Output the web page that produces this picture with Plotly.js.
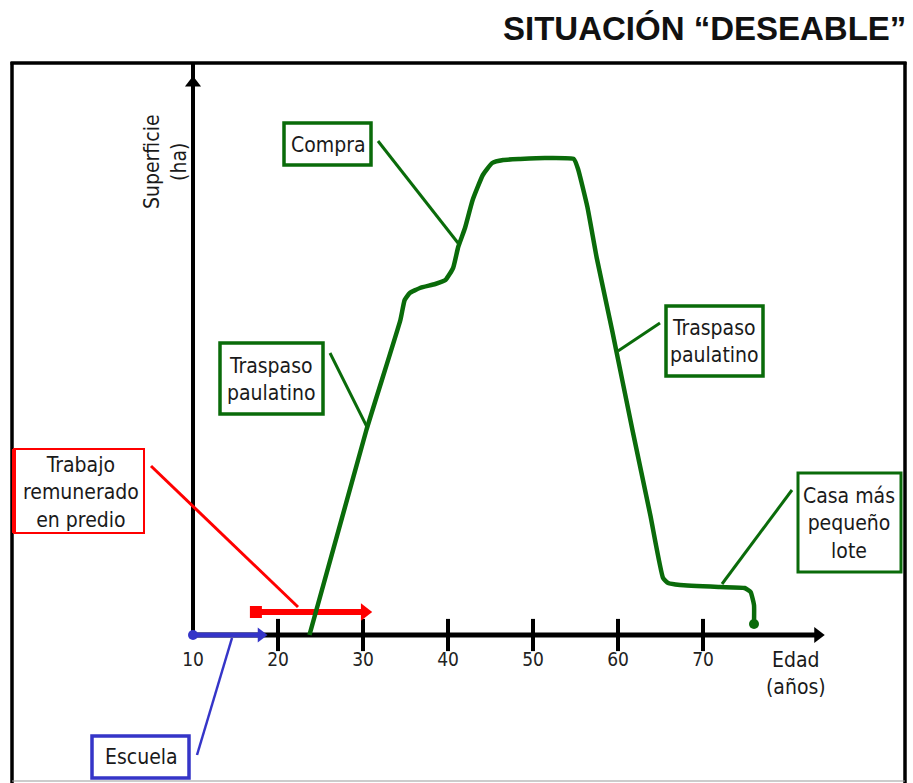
<!DOCTYPE html>
<html>
<head>
<meta charset="utf-8">
<script src="https://cdn.plot.ly/plotly-3.0.1.min.js"></script>
<style>
html,body{margin:0;padding:0;background:#fff;}
#chart{width:913px;height:783px;}
</style>
</head>
<body>
<div id="chart"></div>
<script>
// ---------------- data ----------------
const curveAge = [23.7, 30.4, 34.4, 34.9, 35.5, 36.7, 38.5, 39.7, 40.6, 41.2, 42.0, 42.9, 44.1, 45.2, 46.5, 48.5, 51.4, 54.8, 55.3, 56.4, 57.5, 59.3, 61.7, 63.8, 65.3, 65.9, 67.3, 72.0, 74.9, 75.6, 76.0, 76.0];
const curveSup = [0, 41, 63, 67, 68.4, 69.4, 70.2, 71, 73.4, 77.6, 81.4, 87, 92, 94.4, 95, 95.2, 95.4, 95.2, 93.2, 85.6, 75.4, 61, 41, 24, 11.4, 10.4, 10, 9.6, 9.4, 8.6, 6, 2.2];
const escuelaAge = [10, 18];
const trabajoAge = [17.4, 30.2];
const trabajoSup = 4.6;
const tickVals = [20, 30, 40, 50, 60, 70];
const tickLabelVals = [10, 20, 30, 40, 50, 60, 70];
const tickLabels = ['10', '20', '30', '40', '50', '60', '70'];
const xAxisStart = 10, xAxisEnd = 83.2, xArrowTip = 83.5;
const yAxisTop = 114.4, yArrowPos = 110.4;

// ---------------- helpers (layout pixel -> paper) ----------------
const W = 913, H = 783;
const PX = p => p / W;
const PY = p => 1 - p / H;

const GREEN = '#0a6b0a', RED = '#ff0000', BLUE = '#3535c8';
const TXT = "'Liberation Sans Narrow', 'DejaVu Sans Condensed', 'Liberation Sans', sans-serif";

function mk(symbol, size, color){
  return {symbol:symbol, size:size, color:color, opacity:1, line:{width:0}};
}

const traces = [];
// x axis line
traces.push({x:[xAxisStart, xAxisEnd], y:[0,0], mode:'lines', line:{color:'#000', width:5}, hoverinfo:'skip'});
traces.push({x:[xArrowTip], y:[0], mode:'markers', marker:mk('triangle-right', 14, '#000'), hoverinfo:'skip'});
// ticks
traces.push({x:tickVals, y:tickVals.map(()=>0), mode:'markers', marker:{symbol:'line-ns', size:23, opacity:1, line:{color:'#000', width:4}}, hoverinfo:'skip'});
// tick labels
traces.push({x:tickLabelVals, y:tickLabelVals.map(()=>-5.2), mode:'text', text:tickLabels, textfont:{family:TXT, size:19, color:'#222'}, hoverinfo:'skip'});
// y axis line
traces.push({x:[xAxisStart, xAxisStart], y:[0, yAxisTop], mode:'lines', line:{color:'#000', width:4}, hoverinfo:'skip'});
traces.push({x:[xAxisStart], y:[yArrowPos], mode:'markers', marker:mk('triangle-up', 14, '#000'), hoverinfo:'skip'});
// escuela (blue) arrow
traces.push({x:escuelaAge, y:[0,0], mode:'lines', line:{color:BLUE, width:5}, hoverinfo:'skip'});
traces.push({x:escuelaAge, y:[0,0], mode:'markers', marker:mk(['circle','triangle-right'], [10,13], BLUE), hoverinfo:'skip'});
// trabajo (red) arrow
traces.push({x:trabajoAge, y:[trabajoSup, trabajoSup], mode:'lines', line:{color:RED, width:6}, hoverinfo:'skip'});
traces.push({x:trabajoAge, y:[trabajoSup, trabajoSup], mode:'markers', marker:mk(['square','triangle-right'], [12,15], RED), hoverinfo:'skip'});
// main curve
traces.push({x:curveAge, y:curveSup, mode:'lines', line:{color:GREEN, width:4.5, shape:'spline', smoothing:0.4}, hoverinfo:'skip'});
traces.push({x:[curveAge[curveAge.length-1]], y:[curveSup[curveSup.length-1]], mode:'markers', marker:mk('circle', 10, GREEN), hoverinfo:'skip'});

// ---------------- shapes ----------------
const shapes = [];
function seg(x0,y0,x1,y1,color,width){
  shapes.push({type:'line', xref:'paper', yref:'paper', x0:PX(x0), y0:PY(y0), x1:PX(x1), y1:PY(y1), line:{color:color, width:width}});
}
function box(x0,y0,x1,y1,color,width){
  shapes.push({type:'rect', xref:'paper', yref:'paper', x0:PX(x0), y0:PY(y0), x1:PX(x1), y1:PY(y1), line:{color:color, width:width}, fillcolor:'rgba(0,0,0,0)'});
}
// frame
seg(12,62,12,783,'#000',3.5);
seg(10.5,63,906.5,63,'#000',3.5);
seg(905,62,905,783,'#000',3.5);
seg(12,781,905,781,'#999',1);
// boxes
box(284,123,371,165,GREEN,3.5);
box(220,343,323,414,GREEN,3.5);
box(666,306,763,376,GREEN,3.5);
box(798,473,901,572,GREEN,3);
box(14,449,144,533,RED,2);
seg(14,449,14,533,RED,4);
box(92,736,189,778,BLUE,3.5);
// leader lines
seg(378,141,458,243,GREEN,3);
seg(330,353,367,427,GREEN,3);
seg(660,323,618,351,GREEN,3);
seg(792,490,722,584,GREEN,3);
seg(151,466,298,607,RED,3);
seg(232,638,197,755,BLUE,2.5);

// ---------------- annotations ----------------
const ann = [];
function txt(x,y,t,opts){
  ann.push(Object.assign({xref:'paper', yref:'paper', x:PX(x), y:PY(y), text:t, showarrow:false,
    xanchor:'center', yanchor:'middle', font:{family:TXT, size:21, color:'#1a1a1a'}}, opts||{}));
}
txt(908,28,'<b>SITUACIÓN “DESEABLE”</b>',{xanchor:'right', font:{family:"'Liberation Sans', Arial, sans-serif", size:33, color:'#111'}});
txt(328,145,'Compra');
txt(271,379.5,'Traspaso<br>paulatino');
txt(714,341.5,'Traspaso<br>paulatino');
txt(849,523.5,'Casa más<br>pequeño<br>lote');
txt(81,492.5,'Trabajo<br>remunerado<br>en predio');
txt(141,757,'Escuela');
txt(796,673.5,'Edad<br>(años)');
txt(166,162,'Superficie<br>(ha)',{textangle:-90});

const layout = {
  width:W, height:H,
  margin:{l:0,r:0,t:0,b:0,pad:0},
  paper_bgcolor:'#fff', plot_bgcolor:'#fff',
  showlegend:false,
  xaxis:{range:[-12.706, 94.706], visible:false, fixedrange:true},
  yaxis:{range:[-29.6, 127], visible:false, fixedrange:true},
  shapes:shapes,
  annotations:ann
};
Plotly.newPlot('chart', traces, layout, {displayModeBar:false, staticPlot:true});
</script>
</body>
</html>
